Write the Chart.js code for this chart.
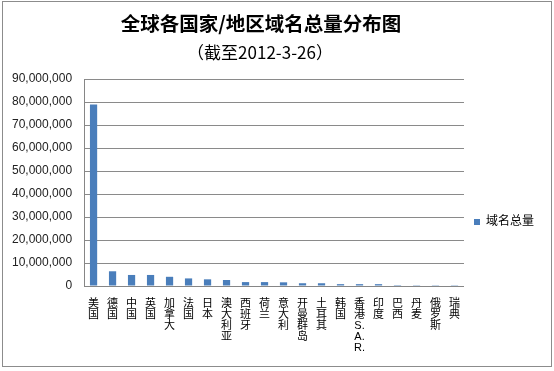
<!DOCTYPE html>
<html>
<head>
<meta charset="utf-8">
<script src="https://cdn.jsdelivr.net/npm/chart.js@4/dist/chart.umd.min.js"></script>
<style>
html,body{margin:0;padding:0;background:#fff;}
#wrap{width:554px;height:371px;position:relative;}
</style>
</head>
<body>
<div id="wrap"><canvas id="c" width="554" height="371"></canvas></div>
<script>
const titleText = '全球各国家/地区域名总量分布图';
const subtitleText = '（截至2012-3-26）';
const seriesName = '域名总量';
const categories = ['美国','德国','中国','英国','加拿大','法国','日本','澳大利亚','西班牙','荷兰','意大利','开曼群岛','土耳其','韩国','香港S.A.R.','印度','巴西','丹麦','俄罗斯','瑞典'];
const values = [78900000, 6400000, 4800000, 4800000, 4000000, 3300000, 2900000, 2600000, 1700000, 1700000, 1600000, 1200000, 1200000, 800000, 800000, 800000, 400000, 350000, 350000, 350000];
const yTicks = [0, 10000000, 20000000, 30000000, 40000000, 50000000, 60000000, 70000000, 80000000, 90000000];

const FONT = '"Liberation Sans", Arial, "Noto Sans CJK SC", sans-serif';

function verticalLabel(s) {
  if (s === '香港S.A.R.') return ['香','港','S.','A.','R.'];
  return Array.from(s);
}

const decor = {
  id: 'decor',
  beforeDraw(chart) {
    const ctx = chart.ctx;
    ctx.save();
    ctx.fillStyle = '#fff';
    ctx.fillRect(0, 0, chart.width, chart.height);
    ctx.restore();
  },
  afterDraw(chart) {
    const ctx = chart.ctx;
    ctx.save();
    ctx.strokeStyle = '#8c8c8c';
    ctx.lineWidth = 1;
    ctx.strokeRect(2.5, 1.5, 549, 365);
    ctx.fillStyle = '#000';
    ctx.textAlign = 'center';
    ctx.textBaseline = 'middle';
    ctx.font = 'bold 19.5px "Noto Sans CJK SC", ' + FONT;
    ctx.fillText(titleText, 261, 24);
    ctx.font = '17px "Noto Sans CJK SC", ' + FONT;
    ctx.fillText(subtitleText, 260, 53);
    ctx.restore();
  }
};

new Chart(document.getElementById('c'), {
  type: 'bar',
  data: {
    labels: categories.map(verticalLabel),
    datasets: [{
      label: seriesName,
      data: values,
      backgroundColor: '#4A7EBB',
      borderWidth: 0,
      categoryPercentage: 1,
      barPercentage: 0.38
    }]
  },
  options: {
    responsive: false,
    animation: false,
    devicePixelRatio: 1,
    layout: { padding: { top: 79, left: 0, right: 10, bottom: 6 } },
    plugins: {
      title: { display: false },
      tooltip: { enabled: false },
      legend: {
        display: true,
        position: 'right',
        labels: {
          boxWidth: 6,
          boxHeight: 6,
          padding: 10,
          color: '#000',
          font: { family: FONT, size: 12 }
        }
      }
    },
    scales: {
      x: {
        grid: { display: false, drawTicks: false },
        border: { display: true, color: '#868686' },
        ticks: {
          autoSkip: false,
          maxRotation: 0,
          minRotation: 0,
          padding: 12,
          color: '#000',
          font: { family: FONT, size: 11, lineHeight: 1.0 }
        }
      },
      y: {
        min: 0,
        max: 90000000,
        afterBuildTicks(axis) { axis.ticks = yTicks.map(v => ({ value: v })); },
        grid: { color: '#8a8a8a', drawTicks: false },
        border: { display: true, color: '#868686' },
        ticks: {
          padding: 12,
          color: '#222',
          font: { family: FONT, size: 12 },
          callback: v => v.toLocaleString('en-US')
        }
      }
    }
  },
  plugins: [decor]
});
</script>
</body>
</html>
